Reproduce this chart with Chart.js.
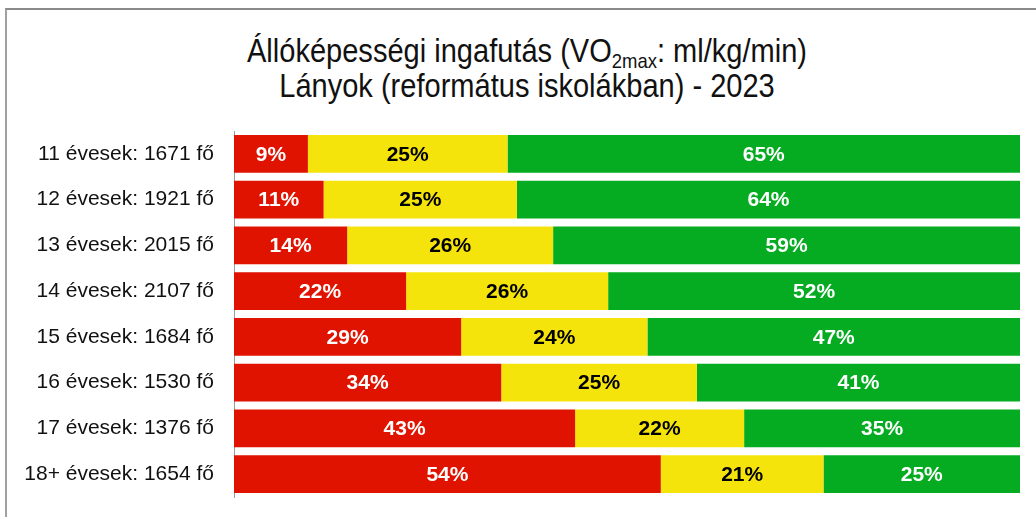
<!DOCTYPE html>
<html>
<head>
<meta charset="utf-8">
<script src="https://cdn.jsdelivr.net/npm/chart.js@4/dist/chart.umd.min.js"></script>
<style>
  html, body { margin: 0; padding: 0; background: #fff; }
  #wrap { position: relative; width: 1036px; height: 517px; overflow: hidden; }
  #frame { position: absolute; left: 5px; top: 8px; width: 1100px; height: 600px;
           border-top: 2px solid #8a8a8a; border-left: 2px solid #a0a0a0; }
  #title { position: absolute; left: 0; top: 33px; width: 1054px; text-align: center;
           font-family: "Liberation Sans", Arial, sans-serif; font-size: 33px; line-height: 35px; color: #111;
           transform: scaleX(0.88); transform-origin: 527px 0; }
  #title sub { font-size: 21px; vertical-align: -6px; line-height: 0; }
  canvas { position: absolute; left: 0; top: 0; }
</style>
</head>
<body>
<div id="wrap">
  <div id="frame"></div>
  <div id="title">Állóképességi ingafutás (VO<sub>2max</sub>: ml/kg/min)<br>Lányok (református iskolákban) - 2023</div>
  <canvas id="chart" width="1036" height="517"></canvas>
</div>
<script>
// age groups with number of girls tested
const categories = [
  "11 évesek: 1671 fő",
  "12 évesek: 1921 fő",
  "13 évesek: 2015 fő",
  "14 évesek: 2107 fő",
  "15 évesek: 1684 fő",
  "16 évesek: 1530 fő",
  "17 évesek: 1376 fő",
  "18+ évesek: 1654 fő"
];

// share of each zone in percent
const redValues    = [9.4, 11.4, 14.4, 21.9, 28.9, 34.0, 43.4, 54.3];
const yellowValues = [25.4, 24.6, 26.2, 25.7, 23.7, 24.9, 21.5, 20.7];
const greenValues  = [65.2, 64.0, 59.4, 52.4, 47.4, 41.1, 35.1, 25.0];

const labelFont = "bold 21px 'Liberation Sans', Arial, sans-serif";

// draws the rounded percentage in the middle of every segment
const segmentLabels = {
  id: "segmentLabels",
  afterDatasetsDraw(chart) {
    const ctx = chart.ctx;
    ctx.save();
    ctx.font = labelFont;
    ctx.textAlign = "center";
    ctx.textBaseline = "middle";
    chart.data.datasets.forEach((ds, i) => {
      const meta = chart.getDatasetMeta(i);
      meta.data.forEach((bar, j) => {
        const props = bar.getProps(["x", "y", "base"], true);
        const cx = (props.x + props.base) / 2;
        ctx.fillStyle = ds.labelColor;
        ctx.fillText(Math.round(ds.data[j]) + "%", cx, props.y + 1);
      });
    });
    ctx.restore();
  }
};

const ctx = document.getElementById("chart").getContext("2d");
new Chart(ctx, {
  type: "bar",
  data: {
    labels: categories,
    datasets: [
      { data: redValues, backgroundColor: "#e01300", labelColor: "#ffffff" },
      { data: yellowValues, backgroundColor: "#f5e40b", labelColor: "#000000" },
      { data: greenValues, backgroundColor: "#05ab21", labelColor: "#ffffff" }
    ]
  },
  options: {
    indexAxis: "y",
    responsive: false,
    animation: false,
    categoryPercentage: 1,
    barPercentage: 0.83,
    layout: { padding: { top: 131, bottom: 20, right: 16, left: 0 } },
    plugins: {
      legend: { display: false },
      tooltip: { enabled: false }
    },
    scales: {
      x: {
        stacked: true,
        display: false,
        min: 0,
        max: 100
      },
      y: {
        stacked: true,
        // fixed axis width; drop the label padding so the layout padding decides the plot height
        afterFit(scale) {
          scale.width = 234;
          scale.paddingTop = 0;
          scale.paddingBottom = 0;
        },
        grid: { display: false, drawTicks: false },
        border: { display: true, color: "#9a9a9a", width: 1 },
        ticks: {
          padding: 20,
          color: "#111",
          font: { family: "'Liberation Sans', Arial, sans-serif", size: 21 }
        }
      }
    }
  },
  plugins: [segmentLabels]
});
</script>
</body>
</html>
